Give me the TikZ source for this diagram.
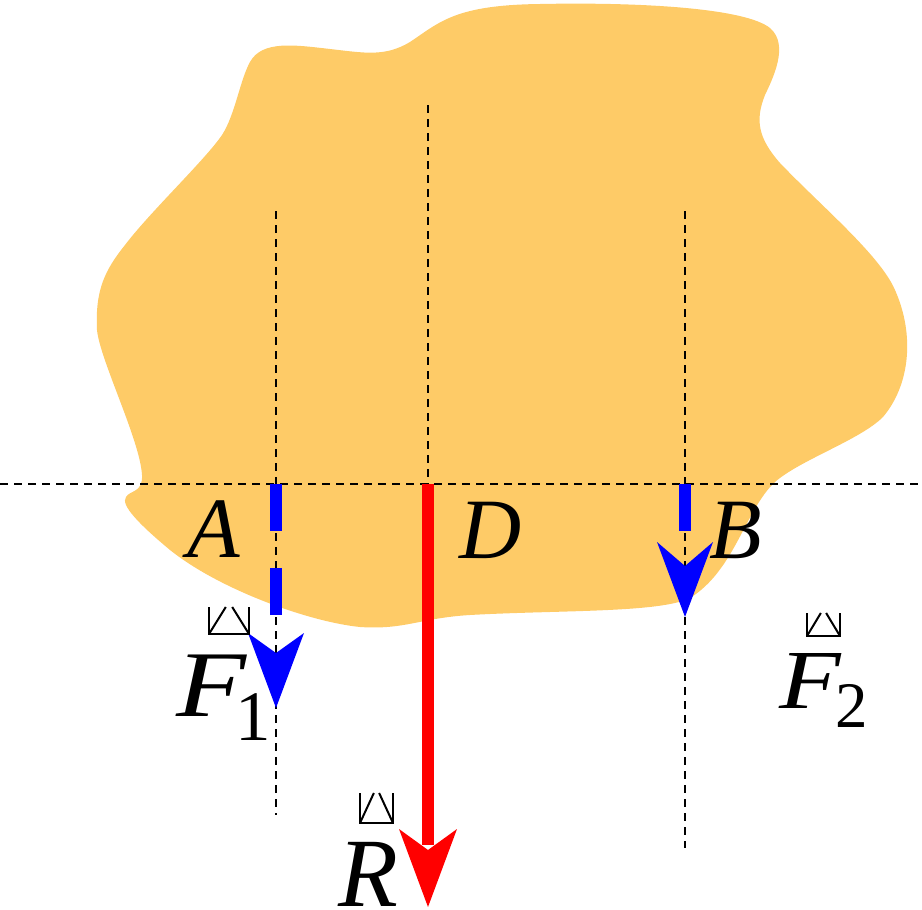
\documentclass[tikz,border=0pt]{standalone}
\usepackage{fontspec}
\setmainfont{Liberation Serif}
\definecolor{blobfill}{RGB}{254,203,103}
\newcommand\boxglyph[4]{%
  \draw[glyphline] (#1,#2) -- (#1,#4) -- (#3,#4) -- (#3,#2);
  \draw[glyphline] (#1,#4) -- ({#1+0.42*(#3-#1)},#2);
  \draw[glyphline] ({#1+0.58*(#3-#1)},#2) -- (#3,#4);}
\begin{document}
\begin{tikzpicture}[x=1pt,y=-1pt,
  guide/.style={black, line width=1.6pt, dash pattern=on 8pt off 6pt},
  bluedash/.style={blue, line width=12pt, dash pattern=on 47pt off 37pt},
  redline/.style={red, line width=12pt},
  lbl/.style={inner sep=0pt, anchor=base west, font=\fontsize{86}{86}\selectfont\itshape},
  glyphline/.style={black, line width=2pt, line cap=butt, line join=miter}]
\useasboundingbox (0,0) rectangle (922,910);
% body
\fill[blobfill] (97,330)
  .. controls (95,290) and (105,270) .. (125,245)
  .. controls (150,212) and (205,160) .. (222,135)
  .. controls (235,115) and (240,80) .. (250,62)
  .. controls (262,40) and (295,45) .. (330,49)
  .. controls (365,53) and (385,57) .. (410,42)
  .. controls (440,22) and (455,5) .. (540,4)
  .. controls (640,2) and (745,8) .. (770,28)
  .. controls (790,45) and (772,80) .. (765,95)
  .. controls (755,120) and (758,138) .. (780,163)
  .. controls (820,205) and (880,255) .. (895,290)
  .. controls (915,335) and (910,385) .. (883,417)
  .. controls (860,440) and (800,460) .. (775,482)
  .. controls (745,510) and (735,570) .. (690,598)
  .. controls (660,613) and (560,610) .. (470,615)
  .. controls (420,618) and (405,630) .. (360,627)
  .. controls (310,622) and (220,590) .. (170,550)
  .. controls (140,525) and (120,505) .. (126,497)
  .. controls (130,490) and (143,493) .. (142,475)
  .. controls (140,440) and (100,360) .. (97,330) -- cycle;
% coordinates
\coordinate (Ptop) at (276,211);
\coordinate (Pbot) at (276,815);
\coordinate (Dtop) at (428,105);
\coordinate (Dpt) at (428,484);
\coordinate (Btop) at (685,211);
\coordinate (Bbot) at (685,848);
\coordinate (Hl) at (0,484);
\coordinate (Hr) at (922,484);
\coordinate (Apt) at (276,484);
\coordinate (Bpt) at (685,484);
% guide lines
\draw[guide] (Hl) -- (Hr);
\draw[guide] (Ptop) -- (Pbot);
\draw[guide] (Dtop) -- (Dpt);
\draw[guide] (Btop) -- (Bbot);
% forces
\draw[bluedash] (Apt) -- (276,645);
\fill[blue] (276,708) -- (248,633) -- (276,653) -- (304,633) -- cycle;
\draw[bluedash] (Bpt) -- (685,560);
\fill[blue] (685,617) -- (657,542) -- (685,566) -- (713,542) -- cycle;
\draw[redline] (Dpt) -- (428,845);
\fill[red] (428,907) -- (399,829) -- (428,850) -- (457,829) -- cycle;
% labels
\node[lbl] (labA) at (187,557) {A};
\node[lbl] (labD) at (459,558) {D};
\node[lbl] (labB) at (709,558) {B};
\node[lbl, font=\fontsize{94}{94}\selectfont\itshape] (labF1) at (176,716)
  {\scalebox{1.22}[1]{F}\hspace{-11pt}\raisebox{-24pt}{\fontsize{71}{71}\selectfont\upshape 1}};
\node[lbl, font=\fontsize{84}{84}\selectfont\itshape] (labF2) at (779,708)
  {\scalebox{1.2}[1]{F}\hspace{-5.6pt}\raisebox{-19pt}{\fontsize{65}{65}\selectfont\upshape 2}};
\node[lbl, font=\fontsize{98}{98}\selectfont\itshape] (labR) at (338,906) {R};
% missing-glyph marks
\boxglyph{209}{607}{249}{634}
\boxglyph{807}{613}{840}{636}
\boxglyph{360}{793}{393}{823}
\end{tikzpicture}
\end{document}
